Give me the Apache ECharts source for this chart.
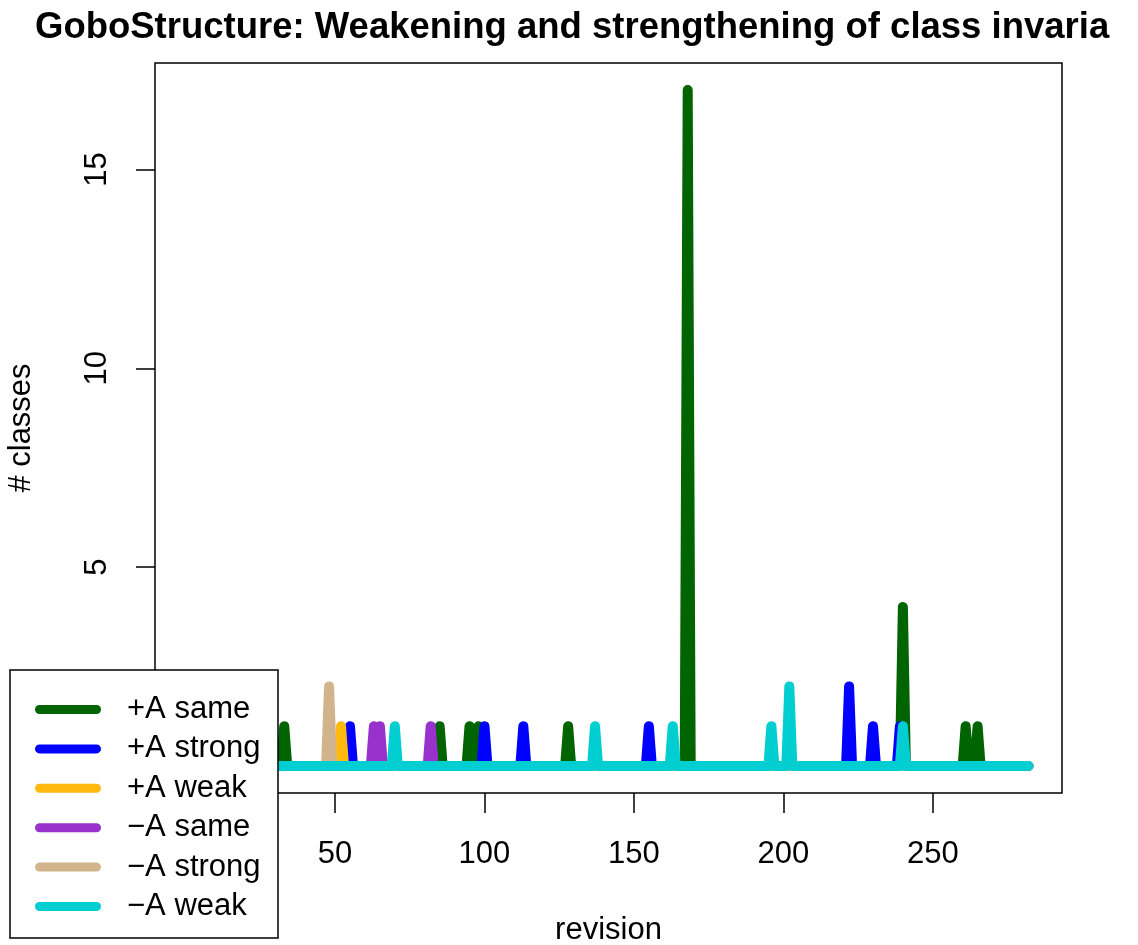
<!DOCTYPE html>
<html>
<head>
<meta charset="utf-8">
<script src="https://cdn.jsdelivr.net/npm/echarts@6/dist/echarts.min.js"></script>
<style>
html,body{margin:0;padding:0;background:#fff;}
#chart{width:1138px;height:945px;}
</style>
</head>
<body>
<div id="chart"></div>
<script>
// ---- data ----
const revisionStart = 1;
const revisionEnd = 282;
const seriesNames = ['+A same', '+A strong', '+A weak', '\u2212A same', '\u2212A strong', '\u2212A weak'];
const seriesColors = ['#006400', '#0000FF', '#FFB90F', '#9932CC', '#D2B48C', '#00CED1'];
// revisions with non-zero counts, and the counts
const plusSameRev = [33, 85, 95, 98, 128, 168, 240, 261, 265];
const plusSameVal = [1, 1, 1, 1, 1, 17, 4, 1, 1];
const plusStrongRev = [55, 100, 113, 155, 222, 230, 239];
const plusStrongVal = [1, 1, 1, 1, 2, 1, 1];
const plusWeakRev = [52];
const plusWeakVal = [1];
const minusSameRev = [63, 65, 82];
const minusSameVal = [1, 1, 1];
const minusStrongRev = [48];
const minusStrongVal = [2];
const minusWeakRev = [70, 137, 163, 196, 202, 240];
const minusWeakVal = [1, 1, 1, 1, 2, 1];
const xTickValues = [0, 50, 100, 150, 200, 250];
const yTickValues = [0, 5, 10, 15];

const spikeRevs = [plusSameRev, plusStrongRev, plusWeakRev, minusSameRev, minusStrongRev, minusWeakRev];
const spikeVals = [plusSameVal, plusStrongVal, plusWeakVal, minusSameVal, minusStrongVal, minusWeakVal];

function buildSeries(revs, vals) {
  const out = [];
  for (let r = revisionStart; r <= revisionEnd; r++) {
    const i = revs.indexOf(r);
    out.push([r, i >= 0 ? vals[i] : 0]);
  }
  return out;
}

const FONT = "'Liberation Sans', Arial, Helvetica, sans-serif";
const chart = echarts.init(document.getElementById('chart'), null, {renderer: 'canvas'});

const series = seriesNames.map((name, k) => ({
  name: name,
  type: 'line',
  data: buildSeries(spikeRevs[k], spikeVals[k]),
  showSymbol: false,
  symbol: 'none',
  color: seriesColors[k],
  lineStyle: {width: 10, color: seriesColors[k], cap: 'round', join: 'round'},
  emphasis: {disabled: true},
  animation: false,
  z: 2
}));

const option = {
  animation: false,
  backgroundColor: '#ffffff',
  title: {
    text: 'GoboStructure: Weakening and strengthening of class invariants',
    left: 35,
    top: 9,
    padding: 0,
    textStyle: {fontFamily: FONT, fontSize: 36.5, fontWeight: 'bold', color: '#000',
      width: 1092, overflow: 'truncate', ellipsis: ''}
  },
  grid: {
    left: 155, right: 76, top: 63, bottom: 152,
    outerBoundsMode: 'none',
    containLabel: false,
    show: true, borderColor: '#000', borderWidth: 1.5, backgroundColor: 'transparent'
  },
  xAxis: {
    type: 'value',
    min: -10.24, max: 293.24,
    name: 'revision',
    nameLocation: 'middle',
    nameGap: 122,
    nameTextStyle: {fontFamily: FONT, fontSize: 31, color: '#000'},
    axisLine: {show: false, onZero: false},
    splitLine: {show: false},
    axisTick: {show: true, inside: false, length: 20, lineStyle: {color: '#000', width: 1.5}, customValues: xTickValues},
    axisLabel: {fontFamily: FONT, fontSize: 31, color: '#000', margin: 46, customValues: xTickValues, showMinLabel: true, showMaxLabel: true}
  },
  yAxis: {
    type: 'value',
    min: -0.68, max: 17.68,
    name: '# classes',
    nameLocation: 'middle',
    nameGap: 118,
    nameRotate: 90,
    nameTextStyle: {fontFamily: FONT, fontSize: 31, color: '#000'},
    axisLine: {show: false, onZero: false},
    splitLine: {show: false},
    axisTick: {show: true, inside: false, length: 19, lineStyle: {color: '#000', width: 1.5}, customValues: yTickValues},
    axisLabel: {fontFamily: FONT, fontSize: 31, color: '#000', margin: 42, rotate: 90, customValues: yTickValues}
  },
  graphic: [{
    type: 'rect',
    z: 50,
    shape: {x: 10, y: 670, width: 268, height: 268},
    style: {fill: '#fff', stroke: '#000', lineWidth: 1.5}
  }],
  legend: {
    z: 60,
    orient: 'vertical',
    left: 10,
    top: 670,
    padding: [24, 0, 0, 25],
    itemWidth: 66,
    itemHeight: 9,
    itemGap: 8.4,
    icon: 'path://M4.5,0 L61.5,0 A4.5,4.5 0 0 1 61.5,9 L4.5,9 A4.5,4.5 0 0 1 4.5,0 Z',
    selectedMode: false,
    textStyle: {fontFamily: FONT, fontSize: 31, color: '#000', lineHeight: 30, padding: [0, 0, 0, 21]},
    data: seriesNames
  },
  series: series
};
chart.setOption(option);
</script>
</body>
</html>
